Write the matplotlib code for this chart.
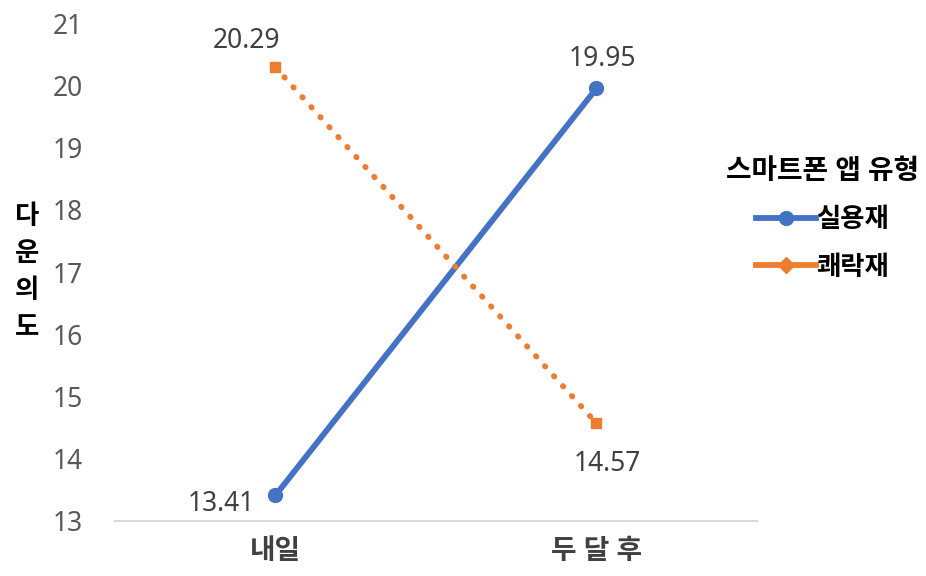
import matplotlib
matplotlib.use("Agg")
import matplotlib.pyplot as plt
from matplotlib.lines import Line2D

plt.rcParams['font.family'] = ['Noto Sans', 'Noto Sans CJK KR', 'DejaVu Sans']

categories = ['내일', '두 달 후']
practical = [13.41, 19.95]
hedonic = [20.29, 14.57]
series_names = ['실용재', '쾌락재']
legend_title = '스마트폰 앱 유형'
y_label = '다운의도'

blue = '#4472C4'
orange = '#ED7D31'
gray = '#595959'
dark = '#404040'

fig = plt.figure(figsize=(9.26, 5.76), dpi=100)
ax = fig.add_axes([0.124, 0.0955, 0.6935, 0.8645])

x = list(range(len(categories)))
ax.plot(x, practical, color=blue, lw=4.2, marker='o', ms=10, solid_capstyle='round')
ax.plot(x, hedonic, color=orange, lw=4.2, ls=(0, (0.1, 2.2)), dash_capstyle='round',
        marker='s', ms=7)

# data labels (offsets in points from the data point)
lbl = dict(textcoords='offset points', ha='center', va='center', fontsize=19, color=dark)
ax.annotate(f'{hedonic[0]:.2f}', (x[0], hedonic[0]), xytext=(-21, 19), **lbl)
ax.annotate(f'{practical[0]:.2f}', (x[0], practical[0]), xytext=(-39, -6), **lbl)
ax.annotate(f'{practical[1]:.2f}', (x[1], practical[1]), xytext=(4, 21), **lbl)
ax.annotate(f'{hedonic[1]:.2f}', (x[1], hedonic[1]), xytext=(8, -29), **lbl)

ax.set_xlim(-0.5, len(categories) - 0.5)
ax.set_ylim(13, 21)
ax.set_yticks(range(13, 22))
ax.set_xticks(x)
ax.set_xticklabels(categories, fontsize=20, fontweight='bold', color=dark)
ax.tick_params(axis='y', labelsize=19, labelcolor=gray, length=0, pad=23)
ax.tick_params(axis='x', length=0, pad=12)

for side in ['left', 'right', 'top']:
    ax.spines[side].set_visible(False)
ax.spines['bottom'].set_color('#D9D9D9')
ax.spines['bottom'].set_linewidth(1.5)

# vertical, stacked axis title
for i, ch in enumerate(y_label):
    fig.text(0.029, 1 - (217 + 37 * i) / 576, ch, fontsize=19, fontweight='bold',
             ha='center', va='center')

handles = [
    Line2D([0], [0], color=blue, lw=4.2, marker='o', ms=10, markevery=[0, 1]),
    Line2D([0], [0], color=orange, lw=4.2, marker='D', ms=8, markevery=[0, 1]),
]
leg = fig.legend(handles, series_names, loc='center', bbox_to_anchor=(0.888, 0.618),
                 frameon=False, fontsize=19, title=legend_title, handlelength=2.3,
                 handletextpad=0.0, labelspacing=0.75, borderpad=0)
leg.get_title().set_fontsize(20)
leg.get_title().set_fontweight('bold')
for t in leg.get_texts():
    t.set_fontweight('bold')
leg._legend_box.align = 'center'
leg._legend_box.sep = 14

fig.savefig('out.png', dpi=100)
